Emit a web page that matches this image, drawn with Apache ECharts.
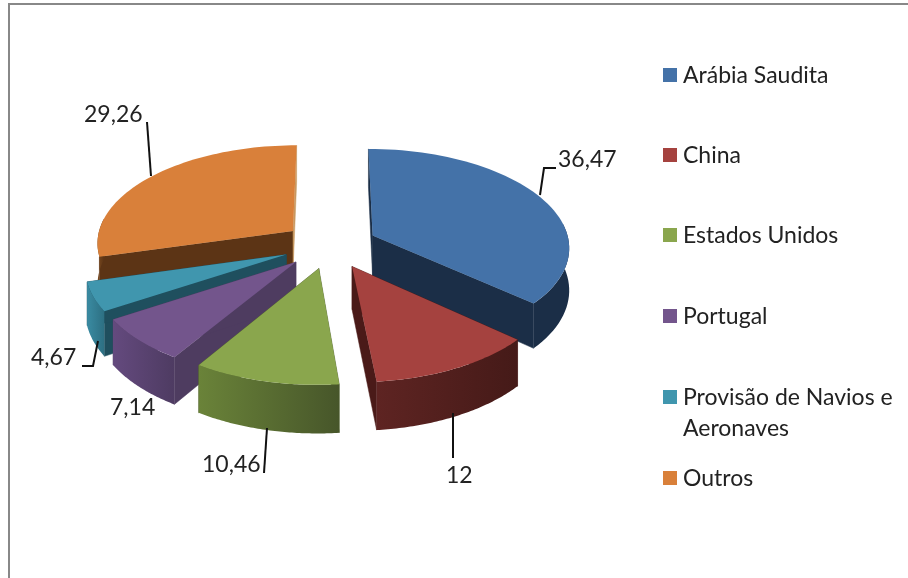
<!DOCTYPE html>
<html>
<head>
<meta charset="utf-8">
<title>Pie</title>
<script src="https://cdn.jsdelivr.net/npm/echarts@6/dist/echarts.min.js"></script>
<style>
  html, body { margin: 0; padding: 0; background: #fff; }
  #chart { width: 908px; height: 578px; }
</style>
</head>
<body>
<div id="chart"></div>
<script>
const categories = ['Arábia Saudita', 'China', 'Estados Unidos', 'Portugal', 'Provisão de Navios e\nAeronaves', 'Outros']
const values = [36.47, 12, 10.46, 7.14, 4.67, 29.26]

// cores: topo, corte, parede (esquerda -> direita)
const topColors = ['#4472A8', '#A5423F', '#8AA64D', '#73558C', '#4096AE', '#D9803A']
const cutColors = ['#1B2E47', '#4A1A18', '#4E5F2C', '#4E3C60', '#1F4F5E', '#5C3415']
const endCutColors = ['#1B2E47', '#4A1A18', '#4E5F2C', '#4E3C60', '#1F4F5E', '#C89860']
const wallLeft = ['#1B2E47', '#5E2422', '#6A8339', '#644A7E', '#3A8BA2', '#7A4A20']
const wallRight = ['#1B2E47', '#451A18', '#47562A', '#4E3B62', '#2D6F82', '#5C3415']
const legendColors = ['#4472A8', '#A5423F', '#8AA64D', '#73558C', '#4096AE', '#D9803A']

// ordem de desenho, de tras para a frente
const drawOrder = [5, 0, 4, 3, 2, 1]

// posicao das etiquetas e das linhas de chamada
const labelPos = [[558, 160], [446, 476], [202, 465], [110, 408], [31, 358], [84, 115]]
const leaders = [
  [[540, 195], [544, 168], [556, 168]],
  [[453, 413], [453, 458]],
  [[267, 428], [264, 473]],
  null,
  [[98, 341], [93, 366], [82, 366]],
  [[147, 122], [151, 176]]
]
const legendY = [75, 155, 235, 316, 397, 478]

// projecao em perspectiva do disco
const cx = 330, cy = 245, scaleX = 197, scaleY = 98, persp = 0.11, depth = 42, explode = 0.24

const total = values.reduce((a, b) => a + b, 0)

function project (x, y, down) {
  const w = 1 + persp * y
  return [cx + scaleX * x / w, cy - scaleY * y / w + (down ? depth / w : 0)]
}

function renderSlice (params, api) {
  const i = params.dataIndex
  let before = 0
  for (let k = 0; k < i; k++) before += values[k]
  const a0 = before / total * Math.PI * 2
  const a1 = (before + api.value(0)) / total * Math.PI * 2
  const mid = (a0 + a1) / 2
  const ox = explode * Math.sin(mid)
  const oy = explode * Math.cos(mid)

  const topArc = [], lowArc = [], wallTop = [], wallLow = []
  const steps = 60
  for (let s = 0; s <= steps; s++) {
    const a = a0 + (a1 - a0) * s / steps
    const t = project(ox + Math.sin(a), oy + Math.cos(a), false)
    const b = project(ox + Math.sin(a), oy + Math.cos(a), true)
    topArc.push(t)
    lowArc.push(b)
    // so a parte da frente da parede fica visivel
    if (Math.cos(a) < 0.15) {
      wallTop.push(t)
      wallLow.push(b)
    }
  }
  const apex = project(ox, oy, false)
  const apexLow = project(ox, oy, true)
  const z = drawOrder.indexOf(i) * 10

  const children = [
    {
      type: 'polygon',
      z2: z,
      shape: { points: [apex, topArc[0], lowArc[0], apexLow] },
      style: { fill: cutColors[i], stroke: cutColors[i], lineWidth: 0.5 }
    },
    {
      type: 'polygon',
      z2: z + 1,
      shape: { points: [apex, topArc[steps], lowArc[steps], apexLow] },
      style: { fill: endCutColors[i], stroke: endCutColors[i], lineWidth: 0.5 }
    },
    {
      type: 'polygon',
      z2: z + 2,
      shape: { points: wallTop.concat(wallLow.reverse()) },
      style: {
        fill: new echarts.graphic.LinearGradient(0, 0, 1, 0, [
          { offset: 0, color: wallLeft[i] },
          { offset: 1, color: wallRight[i] }
        ])
      }
    },
    {
      type: 'polygon',
      z2: z + 3,
      shape: { points: [apex].concat(topArc) },
      style: { fill: topColors[i] }
    }
  ]
  return { type: 'group', children: children }
}

const textStyle = { fontFamily: 'Lato', fontSize: 23, fill: '#222' }

const graphics = [
  // moldura
  { type: 'line', z: 1, shape: { x1: 8, y1: 4, x2: 908, y2: 4 }, style: { stroke: '#888', lineWidth: 2 } },
  { type: 'line', z: 1, shape: { x1: 9, y1: 3, x2: 9, y2: 578 }, style: { stroke: '#888', lineWidth: 2 } }
]

categories.forEach((name, i) => {
  graphics.push({
    type: 'rect',
    z: 5,
    shape: { x: 663, y: legendY[i] - 7, width: 14, height: 14 },
    style: { fill: legendColors[i] }
  })
  graphics.push({
    type: 'text',
    z: 5,
    x: 683,
    y: legendY[i] - 15,
    style: Object.assign({}, textStyle, { text: name, lineHeight: 31, verticalAlign: 'top' })
  })
  graphics.push({
    type: 'text',
    z: 5,
    x: labelPos[i][0],
    y: labelPos[i][1],
    style: Object.assign({}, textStyle, { text: String(values[i]).replace('.', ','), verticalAlign: 'middle' })
  })
  if (leaders[i]) {
    graphics.push({
      type: 'polyline',
      z: 5,
      shape: { points: leaders[i] },
      style: { stroke: '#111', lineWidth: 2, fill: null }
    })
  }
})

const chart = echarts.init(document.getElementById('chart'))
chart.setOption({
  animation: false,
  backgroundColor: '#fff',
  graphic: graphics,
  series: [
    {
      type: 'custom',
      coordinateSystem: 'none',
      renderItem: renderSlice,
      data: values
    }
  ]
})
</script>
</body>
</html>
